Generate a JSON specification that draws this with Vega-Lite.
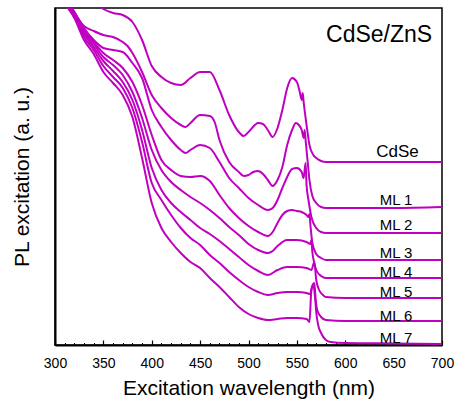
{
"$schema": "https://vega.github.io/schema/vega-lite/v6.json",
"width": 387, "height": 337,
"autosize": "none",
"padding": {"left": 55, "top": 8, "right": 14, "bottom": 58},
"config": {"view": {"stroke": "#000", "strokeWidth": 1.5}, "font": "Liberation Sans"},
"datasets": {
"curves": [
{"s":"CdSe","x":300,"y":405},{"s":"CdSe","x":310,"y":385},{"s":"CdSe","x":320,"y":367},{"s":"CdSe","x":330,"y":353},{"s":"CdSe","x":340,"y":343},{"s":"CdSe","x":350,"y":336},{"s":"CdSe","x":360,"y":332},{"s":"CdSe","x":370,"y":330},{"s":"CdSe","x":380,"y":323},{"s":"CdSe","x":390,"y":305},{"s":"CdSe","x":400,"y":279},{"s":"CdSe","x":410,"y":268},{"s":"CdSe","x":420,"y":262},{"s":"CdSe","x":430,"y":260},{"s":"CdSe","x":440,"y":267},{"s":"CdSe","x":450,"y":273},{"s":"CdSe","x":460,"y":273},{"s":"CdSe","x":470,"y":255},{"s":"CdSe","x":480,"y":230},{"s":"CdSe","x":490,"y":213},{"s":"CdSe","x":495,"y":209},{"s":"CdSe","x":500,"y":213},{"s":"CdSe","x":510,"y":222},{"s":"CdSe","x":515,"y":221},{"s":"CdSe","x":520,"y":215},{"s":"CdSe","x":525,"y":208},{"s":"CdSe","x":530,"y":217},{"s":"CdSe","x":535,"y":235},{"s":"CdSe","x":540,"y":257},{"s":"CdSe","x":545,"y":267},{"s":"CdSe","x":550,"y":263},{"s":"CdSe","x":553,"y":253},{"s":"CdSe","x":555,"y":245},{"s":"CdSe","x":556,"y":252},{"s":"CdSe","x":557,"y":243},{"s":"CdSe","x":560,"y":220},{"s":"CdSe","x":563,"y":200},{"s":"CdSe","x":567,"y":190},{"s":"CdSe","x":570,"y":187},{"s":"CdSe","x":575,"y":184},{"s":"CdSe","x":580,"y":183},{"s":"CdSe","x":600,"y":183},{"s":"CdSe","x":650,"y":183},{"s":"CdSe","x":700,"y":183},
{"s":"ML1","x":300,"y":353},{"s":"ML1","x":310,"y":341},{"s":"ML1","x":320,"y":331},{"s":"ML1","x":330,"y":319},{"s":"ML1","x":340,"y":314},{"s":"ML1","x":350,"y":310},{"s":"ML1","x":360,"y":308},{"s":"ML1","x":370,"y":303},{"s":"ML1","x":375,"y":299},{"s":"ML1","x":380,"y":292},{"s":"ML1","x":390,"y":273},{"s":"ML1","x":400,"y":250},{"s":"ML1","x":410,"y":237},{"s":"ML1","x":420,"y":227},{"s":"ML1","x":430,"y":220},{"s":"ML1","x":435,"y":218},{"s":"ML1","x":440,"y":222},{"s":"ML1","x":450,"y":230},{"s":"ML1","x":460,"y":229},{"s":"ML1","x":465,"y":223},{"s":"ML1","x":470,"y":205},{"s":"ML1","x":480,"y":183},{"s":"ML1","x":490,"y":173},{"s":"ML1","x":495,"y":169},{"s":"ML1","x":500,"y":170},{"s":"ML1","x":505,"y":173},{"s":"ML1","x":510,"y":174},{"s":"ML1","x":515,"y":171},{"s":"ML1","x":520,"y":165},{"s":"ML1","x":525,"y":159},{"s":"ML1","x":530,"y":165},{"s":"ML1","x":535,"y":178},{"s":"ML1","x":540,"y":200},{"s":"ML1","x":545,"y":215},{"s":"ML1","x":549,"y":222},{"s":"ML1","x":552,"y":220},{"s":"ML1","x":555,"y":215},{"s":"ML1","x":557,"y":207},{"s":"ML1","x":558,"y":215},{"s":"ML1","x":559,"y":205},{"s":"ML1","x":561,"y":185},{"s":"ML1","x":563,"y":165},{"s":"ML1","x":566,"y":149},{"s":"ML1","x":570,"y":142},{"s":"ML1","x":575,"y":138},{"s":"ML1","x":580,"y":137},{"s":"ML1","x":600,"y":137},{"s":"ML1","x":650,"y":137},{"s":"ML1","x":700,"y":138},
{"s":"ML2","x":300,"y":360},{"s":"ML2","x":310,"y":345},{"s":"ML2","x":320,"y":333},{"s":"ML2","x":330,"y":317},{"s":"ML2","x":340,"y":305},{"s":"ML2","x":350,"y":297},{"s":"ML2","x":360,"y":295},{"s":"ML2","x":370,"y":293},{"s":"ML2","x":380,"y":282},{"s":"ML2","x":390,"y":267},{"s":"ML2","x":400,"y":235},{"s":"ML2","x":410,"y":218},{"s":"ML2","x":420,"y":205},{"s":"ML2","x":430,"y":195},{"s":"ML2","x":435,"y":192},{"s":"ML2","x":440,"y":195},{"s":"ML2","x":450,"y":200},{"s":"ML2","x":460,"y":197},{"s":"ML2","x":470,"y":183},{"s":"ML2","x":480,"y":167},{"s":"ML2","x":490,"y":157},{"s":"ML2","x":500,"y":147},{"s":"ML2","x":510,"y":140},{"s":"ML2","x":520,"y":135},{"s":"ML2","x":525,"y":137},{"s":"ML2","x":530,"y":145},{"s":"ML2","x":535,"y":157},{"s":"ML2","x":540,"y":168},{"s":"ML2","x":545,"y":176},{"s":"ML2","x":550,"y":177},{"s":"ML2","x":555,"y":173},{"s":"ML2","x":557,"y":167},{"s":"ML2","x":559,"y":182},{"s":"ML2","x":560,"y":160},{"s":"ML2","x":562,"y":145},{"s":"ML2","x":565,"y":128},{"s":"ML2","x":570,"y":117},{"s":"ML2","x":575,"y":113},{"s":"ML2","x":580,"y":112},{"s":"ML2","x":600,"y":112},{"s":"ML2","x":650,"y":112},{"s":"ML2","x":700,"y":112},
{"s":"ML3","x":300,"y":360},{"s":"ML3","x":310,"y":347},{"s":"ML3","x":320,"y":333},{"s":"ML3","x":330,"y":315},{"s":"ML3","x":340,"y":303},{"s":"ML3","x":350,"y":292},{"s":"ML3","x":360,"y":285},{"s":"ML3","x":370,"y":277},{"s":"ML3","x":380,"y":263},{"s":"ML3","x":390,"y":240},{"s":"ML3","x":400,"y":210},{"s":"ML3","x":410,"y":185},{"s":"ML3","x":420,"y":175},{"s":"ML3","x":430,"y":169},{"s":"ML3","x":440,"y":168},{"s":"ML3","x":450,"y":169},{"s":"ML3","x":460,"y":164},{"s":"ML3","x":470,"y":150},{"s":"ML3","x":480,"y":137},{"s":"ML3","x":490,"y":127},{"s":"ML3","x":500,"y":119},{"s":"ML3","x":510,"y":113},{"s":"ML3","x":520,"y":109},{"s":"ML3","x":525,"y":113},{"s":"ML3","x":530,"y":122},{"s":"ML3","x":535,"y":130},{"s":"ML3","x":540,"y":134},{"s":"ML3","x":545,"y":135},{"s":"ML3","x":550,"y":134},{"s":"ML3","x":555,"y":133},{"s":"ML3","x":560,"y":130},{"s":"ML3","x":562,"y":128},{"s":"ML3","x":563,"y":131},{"s":"ML3","x":564,"y":120},{"s":"ML3","x":566,"y":102},{"s":"ML3","x":570,"y":91},{"s":"ML3","x":575,"y":87},{"s":"ML3","x":580,"y":85},{"s":"ML3","x":600,"y":85},{"s":"ML3","x":650,"y":85},{"s":"ML3","x":700,"y":85},
{"s":"ML4","x":300,"y":360},{"s":"ML4","x":310,"y":346},{"s":"ML4","x":320,"y":332},{"s":"ML4","x":330,"y":313},{"s":"ML4","x":340,"y":301},{"s":"ML4","x":350,"y":288},{"s":"ML4","x":360,"y":280},{"s":"ML4","x":370,"y":270},{"s":"ML4","x":380,"y":253},{"s":"ML4","x":390,"y":227},{"s":"ML4","x":400,"y":195},{"s":"ML4","x":410,"y":175},{"s":"ML4","x":420,"y":163},{"s":"ML4","x":430,"y":155},{"s":"ML4","x":440,"y":148},{"s":"ML4","x":450,"y":142},{"s":"ML4","x":460,"y":135},{"s":"ML4","x":470,"y":127},{"s":"ML4","x":480,"y":118},{"s":"ML4","x":490,"y":110},{"s":"ML4","x":500,"y":101},{"s":"ML4","x":510,"y":95},{"s":"ML4","x":520,"y":92},{"s":"ML4","x":525,"y":94},{"s":"ML4","x":530,"y":99},{"s":"ML4","x":540,"y":105},{"s":"ML4","x":550,"y":105},{"s":"ML4","x":560,"y":103},{"s":"ML4","x":564,"y":101},{"s":"ML4","x":565,"y":105},{"s":"ML4","x":566,"y":93},{"s":"ML4","x":568,"y":82},{"s":"ML4","x":570,"y":75},{"s":"ML4","x":575,"y":69},{"s":"ML4","x":580,"y":67},{"s":"ML4","x":600,"y":67},{"s":"ML4","x":650,"y":67},{"s":"ML4","x":700,"y":67},
{"s":"ML5","x":300,"y":360},{"s":"ML5","x":310,"y":345},{"s":"ML5","x":320,"y":331},{"s":"ML5","x":330,"y":311},{"s":"ML5","x":340,"y":298},{"s":"ML5","x":350,"y":284},{"s":"ML5","x":360,"y":274},{"s":"ML5","x":370,"y":263},{"s":"ML5","x":380,"y":245},{"s":"ML5","x":390,"y":215},{"s":"ML5","x":400,"y":177},{"s":"ML5","x":410,"y":155},{"s":"ML5","x":420,"y":142},{"s":"ML5","x":430,"y":133},{"s":"ML5","x":440,"y":125},{"s":"ML5","x":450,"y":117},{"s":"ML5","x":460,"y":111},{"s":"ML5","x":470,"y":104},{"s":"ML5","x":480,"y":96},{"s":"ML5","x":490,"y":88},{"s":"ML5","x":500,"y":80},{"s":"ML5","x":510,"y":74},{"s":"ML5","x":520,"y":70},{"s":"ML5","x":530,"y":75},{"s":"ML5","x":540,"y":78},{"s":"ML5","x":550,"y":78},{"s":"ML5","x":560,"y":77},{"s":"ML5","x":565,"y":75},{"s":"ML5","x":568,"y":83},{"s":"ML5","x":570,"y":65},{"s":"ML5","x":573,"y":55},{"s":"ML5","x":577,"y":50},{"s":"ML5","x":580,"y":48},{"s":"ML5","x":600,"y":47},{"s":"ML5","x":650,"y":47},{"s":"ML5","x":700,"y":47},
{"s":"ML6","x":300,"y":360},{"s":"ML6","x":310,"y":343},{"s":"ML6","x":320,"y":329},{"s":"ML6","x":330,"y":308},{"s":"ML6","x":340,"y":295},{"s":"ML6","x":350,"y":279},{"s":"ML6","x":360,"y":268},{"s":"ML6","x":370,"y":257},{"s":"ML6","x":380,"y":237},{"s":"ML6","x":390,"y":203},{"s":"ML6","x":400,"y":162},{"s":"ML6","x":410,"y":145},{"s":"ML6","x":420,"y":130},{"s":"ML6","x":430,"y":117},{"s":"ML6","x":440,"y":107},{"s":"ML6","x":450,"y":100},{"s":"ML6","x":460,"y":90},{"s":"ML6","x":470,"y":82},{"s":"ML6","x":480,"y":73},{"s":"ML6","x":490,"y":65},{"s":"ML6","x":500,"y":58},{"s":"ML6","x":510,"y":53},{"s":"ML6","x":520,"y":50},{"s":"ML6","x":530,"y":52},{"s":"ML6","x":540,"y":53},{"s":"ML6","x":550,"y":53},{"s":"ML6","x":560,"y":52},{"s":"ML6","x":564,"y":51},{"s":"ML6","x":565.5,"y":58},{"s":"ML6","x":568,"y":62},{"s":"ML6","x":569.5,"y":45},{"s":"ML6","x":571,"y":35},{"s":"ML6","x":575,"y":28},{"s":"ML6","x":580,"y":25},{"s":"ML6","x":600,"y":24},{"s":"ML6","x":650,"y":24},{"s":"ML6","x":700,"y":24},
{"s":"ML7","x":300,"y":360},{"s":"ML7","x":310,"y":342},{"s":"ML7","x":320,"y":327},{"s":"ML7","x":330,"y":305},{"s":"ML7","x":340,"y":291},{"s":"ML7","x":350,"y":273},{"s":"ML7","x":360,"y":262},{"s":"ML7","x":370,"y":250},{"s":"ML7","x":380,"y":228},{"s":"ML7","x":390,"y":187},{"s":"ML7","x":400,"y":142},{"s":"ML7","x":410,"y":117},{"s":"ML7","x":420,"y":103},{"s":"ML7","x":430,"y":92},{"s":"ML7","x":440,"y":83},{"s":"ML7","x":450,"y":77},{"s":"ML7","x":460,"y":67},{"s":"ML7","x":470,"y":58},{"s":"ML7","x":480,"y":48},{"s":"ML7","x":490,"y":38},{"s":"ML7","x":500,"y":31},{"s":"ML7","x":510,"y":27},{"s":"ML7","x":520,"y":25},{"s":"ML7","x":530,"y":26},{"s":"ML7","x":540,"y":27},{"s":"ML7","x":550,"y":27},{"s":"ML7","x":560,"y":26},{"s":"ML7","x":562,"y":24},{"s":"ML7","x":563,"y":23},{"s":"ML7","x":565,"y":55},{"s":"ML7","x":567,"y":60},{"s":"ML7","x":569,"y":45},{"s":"ML7","x":570,"y":33},{"s":"ML7","x":572,"y":20},{"s":"ML7","x":575,"y":12},{"s":"ML7","x":580,"y":5},{"s":"ML7","x":585,"y":3},{"s":"ML7","x":600,"y":2},{"s":"ML7","x":650,"y":1.5},{"s":"ML7","x":700,"y":1}
],
"mllabels": [
{"t":"ML 1","x":652.5,"y":140},{"t":"ML 2","x":652.5,"y":115},{"t":"ML 3","x":652.5,"y":87},{"t":"ML 4","x":652.5,"y":68},{"t":"ML 5","x":652.5,"y":48},{"t":"ML 6","x":652.5,"y":24},{"t":"ML 7","x":652.5,"y":2}
],
"cdselabel": [{"t":"CdSe","x":654,"y":188}],
"titlelabel": [{"t":"CdSe/ZnS","x":635,"y":303.5}]
},
"layer": [
{
"data": {"name": "curves"},
"mark": {"type": "line", "color": "#c000c0", "strokeWidth": 2, "clip": true, "interpolate": "monotone"},
"encoding": {
"x": {"field": "x", "type": "quantitative", "scale": {"domain": [300, 700], "nice": false},
"axis": {"values": [300,350,400,450,500,550,600,650,700], "tickSize": -5, "tickColor": "#000", "tickWidth": 1.2, "domainColor": "#000", "domainWidth": 2, "labelPadding": 16, "labelFontSize": 14, "labelColor": "#000", "labelFont": "Liberation Sans", "labelFlush": false, "grid": false, "title": "Excitation wavelength (nm)", "titleFontSize": 21, "titleFontWeight": "normal", "titleColor": "#000", "titleFont": "Liberation Sans", "titlePadding": 7}},
"y": {"field": "y", "type": "quantitative", "scale": {"domain": [0, 337], "nice": false},
"axis": {"title": "PL excitation (a. u.)", "ticks": false, "labels": false, "grid": false, "domainColor": "#000", "domainWidth": 2, "titleFontSize": 21, "titleFontWeight": "normal", "titleColor": "#000", "titleFont": "Liberation Sans", "titlePadding": 23}},
"detail": {"field": "s"}
}
},
{
"data": {"name": "mllabels"},
"mark": {"type": "text", "fontSize": 15, "align": "center", "baseline": "alphabetic", "color": "#000", "font": "Liberation Sans"},
"encoding": {
"x": {"field": "x", "type": "quantitative", "axis": {"orient": "bottom", "values": [310,320,330,340,360,370,380,390,410,420,430,440,460,470,480,490,510,520,530,540,560,570,580,590,610,620,630,640,660,670,680,690], "tickSize": -2.5, "tickColor": "#000", "tickWidth": 1, "labels": false, "domain": false, "grid": false, "title": null}},
"y": {"field": "y", "type": "quantitative"},
"text": {"field": "t"}
}
},
{
"data": {"name": "cdselabel"},
"mark": {"type": "text", "fontSize": 17, "align": "center", "baseline": "alphabetic", "color": "#000", "font": "Liberation Sans"},
"encoding": {
"x": {"field": "x", "type": "quantitative", "axis": null},
"y": {"field": "y", "type": "quantitative"},
"text": {"field": "t"}
}
},
{
"data": {"name": "titlelabel"},
"mark": {"type": "text", "fontSize": 23, "align": "center", "baseline": "alphabetic", "color": "#000", "font": "Liberation Sans"},
"encoding": {
"x": {"field": "x", "type": "quantitative", "axis": null},
"y": {"field": "y", "type": "quantitative"},
"text": {"field": "t"}
}
}
],
"resolve": {"axis": {"x": "independent"}}
}
